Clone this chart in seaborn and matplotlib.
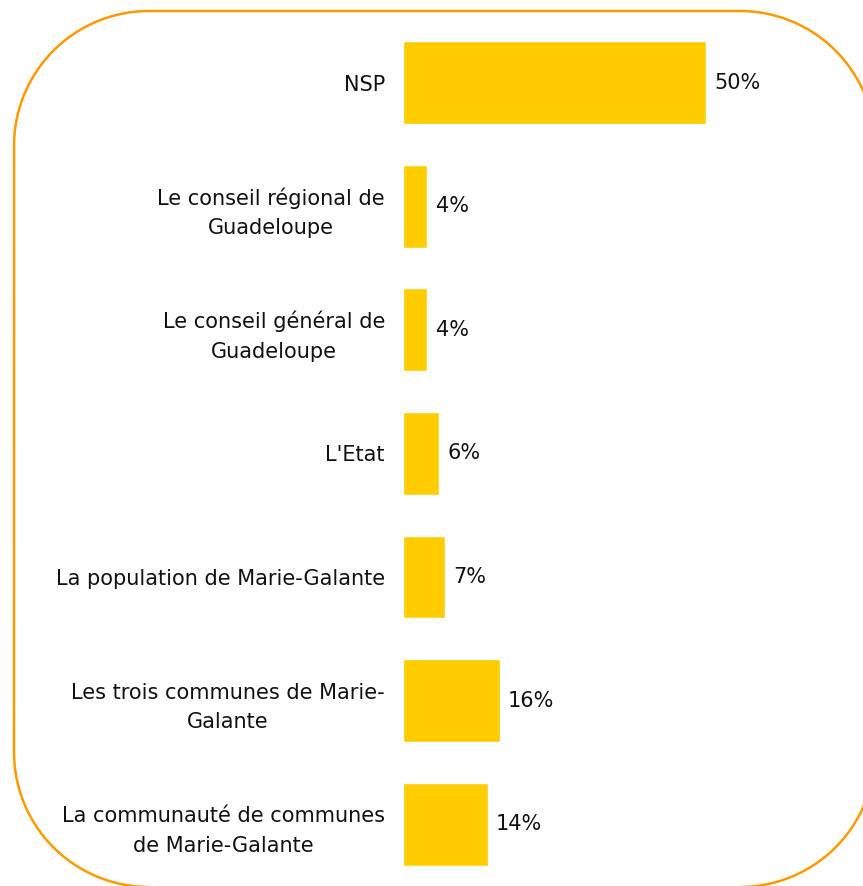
import matplotlib
matplotlib.use("Agg")
import matplotlib.pyplot as plt
from matplotlib.lines import Line2D
import seaborn as sns
import pandas as pd
import numpy as np

# Données
categories = [
    "NSP",
    "Le conseil régional de\nGuadeloupe",
    "Le conseil général de\nGuadeloupe",
    "L'Etat",
    "La population de Marie-Galante",
    "Les trois communes de Marie-\nGalante",
    "La communauté de communes\nde Marie-Galante",
]
valeurs = [50, 4, 4, 6, 7, 16, 14]

df = pd.DataFrame({"categorie": categories, "valeur": valeurs})

sns.set_style("white")
plt.rcParams["font.family"] = ["DejaVu Sans"]

W, H = 863, 886
fig = plt.figure(figsize=(W / 100, H / 100), dpi=100)
ax = fig.add_axes([403 / W, 0, 1 - 403 / W, 1 - 20.7 / H])

sns.barplot(data=df, x="valeur", y="categorie", orient="h", color="#FFCC00",
            width=0.67, saturation=1, ax=ax)

ax.set_xlim(0, 76)
ax.set_ylim(6.5, -0.5)
ax.set_xlabel("")
ax.set_ylabel("")
ax.set_xticks([])
sns.despine(ax=ax, left=True, bottom=True)
ax.tick_params(axis="y", length=0, pad=13)
for lab in ax.get_yticklabels():
    lab.set_fontsize(15)
    lab.set_multialignment("center")
    lab.set_linespacing(1.6)
    lab.set_color("#111111")

# étiquettes de valeurs
for i, v in enumerate(valeurs):
    ax.annotate(f"{v}%", (v, i), xytext=(6, 0), textcoords="offset points",
                va="center", ha="left", fontsize=15, color="#111111")

# cadre arrondi (en pixels, origine en haut à gauche)
x0, x1, y0, y1, r = 14, 875, 11, 887, 135
t = np.linspace(0, np.pi / 2, 40)
pts = []
pts += list(zip(x1 - r + r * np.sin(t), y0 + r - r * np.cos(t)))          # haut droit
pts += list(zip(x1 - r + r * np.cos(t), y1 - r + r * np.sin(t)))          # bas droit
pts += list(zip(x0 + r - r * np.sin(t), y1 - r + r * np.cos(t)))          # bas gauche
pts += list(zip(x0 + r - r * np.cos(t), y0 + r - r * np.sin(t)))          # haut gauche
pts.append(pts[0])
px = np.array([p[0] for p in pts]) / W
py = 1 - np.array([p[1] for p in pts]) / H
fig.add_artist(Line2D(px, py, transform=fig.transFigure, color="#FF9900",
                      linewidth=1.8, solid_joinstyle="round"))

fig.savefig("out.png", dpi=100)
